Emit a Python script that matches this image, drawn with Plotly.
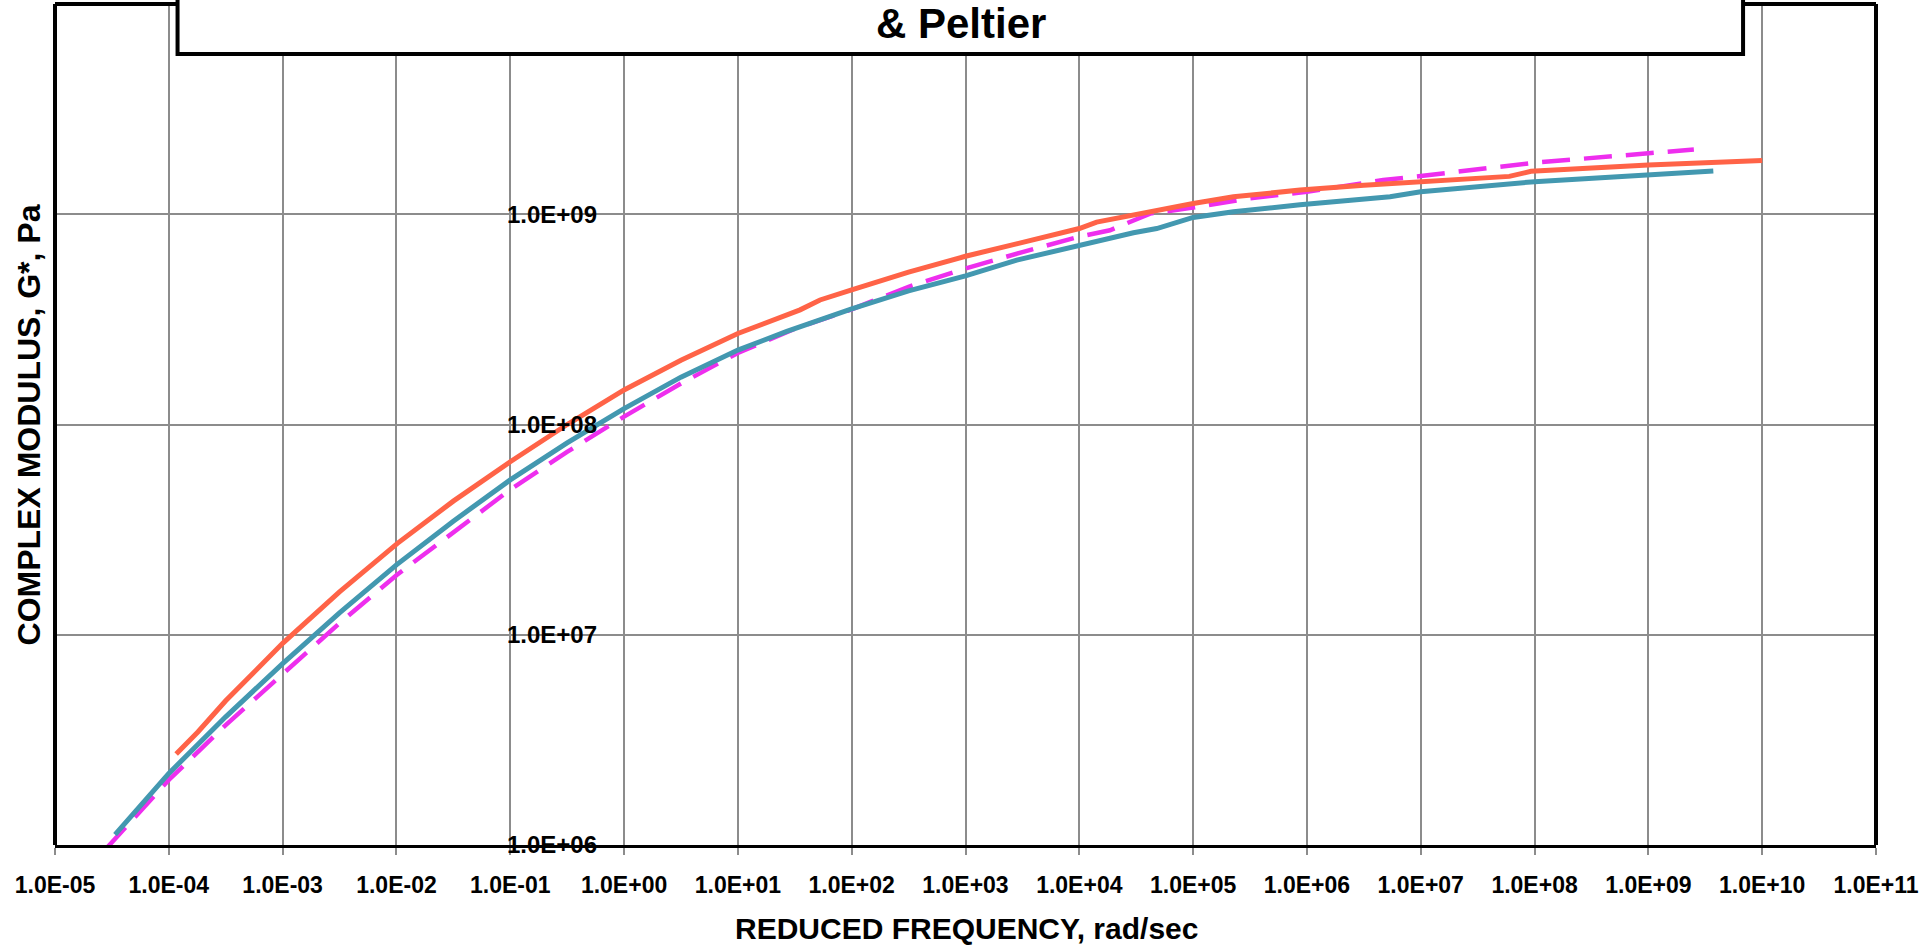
import plotly.graph_objects as go

# ---------------- data ----------------
x_tick_vals = [1e-5, 1e-4, 1e-3, 1e-2, 1e-1, 1e0, 1e1, 1e2, 1e3, 1e4, 1e5, 1e6, 1e7, 1e8, 1e9, 1e10, 1e11]
x_tick_text = ["1.0E-05", "1.0E-04", "1.0E-03", "1.0E-02", "1.0E-01", "1.0E+00", "1.0E+01", "1.0E+02",
               "1.0E+03", "1.0E+04", "1.0E+05", "1.0E+06", "1.0E+07", "1.0E+08", "1.0E+09", "1.0E+10", "1.0E+11"]
y_tick_vals = [1e6, 1e7, 1e8, 1e9]
y_tick_text = ["1.0E+06", "1.0E+07", "1.0E+08", "1.0E+09"]

# orange solid series
orange_freq = [1.16e-4, 1.8e-4, 3.16e-4, 5.6e-4, 1.0e-3, 3.16e-3, 1.02e-2, 3.16e-2, 0.1, 0.316, 1.0, 3.16, 10,
               35.2, 52.7, 100, 316, 1000, 3450, 5550, 1.0e4, 1.42e4, 3.42e4, 5.5e4, 1.0e5, 2.26e5, 8.7e5,
               3.16e6, 1.0e7, 6.0e7, 9.3e7, 1.0e9, 1.0e10]
orange_g = [2.71e6, 3.45e6, 4.85e6, 6.65e6, 9.10e6, 1.60e7, 2.72e7, 4.32e7, 6.65e7, 1.0e8, 1.46e8, 2.02e8, 2.71e8,
            3.51e8, 3.91e8, 4.37e8, 5.31e8, 6.31e8, 7.40e8, 7.93e8, 8.55e8, 9.18e8, 1.007e9, 1.064e9, 1.125e9,
            1.21e9, 1.303e9, 1.374e9, 1.429e9, 1.514e9, 1.60e9, 1.714e9, 1.80e9]

# teal solid series
teal_freq = [3.37e-5, 1.0e-4, 3.16e-4, 1.0e-3, 3.16e-3, 1.0e-2, 3.16e-2, 0.1, 0.316, 1.0, 3.16, 10, 26.9,
             100, 316, 1000, 2820, 1.0e4, 2.99e4, 4.79e4, 7.69e4, 1.0e5, 2.26e5, 8.7e5, 5.37e6, 1.0e7,
             1.0e8, 1.0e9, 3.72e9]
teal_g = [1.12e6, 2.19e6, 4.07e6, 7.29e6, 1.27e7, 2.15e7, 3.47e7, 5.45e7, 8.17e7, 1.19e8, 1.68e8, 2.26e8, 2.77e8,
          3.55e8, 4.32e8, 5.09e8, 6.05e8, 7.14e8, 8.17e8, 8.55e8, 9.33e8, 9.66e8, 1.028e9, 1.109e9, 1.21e9,
          1.279e9, 1.429e9, 1.538e9, 1.607e9]

# magenta dashed series
magenta_freq = [2.84e-5, 1.0e-4, 3.16e-4, 1.0e-3, 3.16e-3, 1.0e-2, 3.16e-2, 0.1, 0.316, 1.0, 3.16, 10, 31.6,
                100, 316, 1000, 3162, 1.0e4, 1.86e4, 4.19e4, 1.0e5, 3.16e5, 1.0e6, 4.68e6, 1.0e7, 1.0e8,
                1.0e9, 2.51e9]
magenta_g = [9.66e5, 2.04e6, 3.72e6, 6.55e6, 1.135e7, 1.92e7, 3.09e7, 4.9e7, 7.41e7, 1.09e8, 1.567e8, 2.19e8,
             2.85e8, 3.53e8, 4.52e8, 5.52e8, 6.61e8, 7.82e8, 8.39e8, 1.007e9, 1.076e9, 1.19e9, 1.279e9, 1.455e9,
             1.52e9, 1.758e9, 1.95e9, 2.03e9]

# ---------------- figure ----------------
FONT = "Liberation Sans, Arial, sans-serif"
GRID = "#8c8c8c"

fig = go.Figure()
fig.add_trace(go.Scatter(x=magenta_freq, y=magenta_g, mode="lines",
                         line=dict(color="#EE2EEE", width=4.5, dash="28px,14px"), showlegend=False))
fig.add_trace(go.Scatter(x=teal_freq, y=teal_g, mode="lines",
                         line=dict(color="#4398B0", width=5), showlegend=False))
fig.add_trace(go.Scatter(x=orange_freq, y=orange_g, mode="lines",
                         line=dict(color="#FF6347", width=5), showlegend=False))

fig.update_layout(
    width=1920, height=949,
    margin=dict(l=55, r=44, t=4, b=104, autoexpand=False),
    paper_bgcolor="white", plot_bgcolor="white",
    showlegend=False,
    xaxis=dict(type="log", range=[-5, 11], tickvals=x_tick_vals, ticktext=x_tick_text,
               showgrid=True, gridcolor=GRID, gridwidth=1.5,
               ticks="outside", ticklen=7, tickcolor=GRID, tickwidth=1.5,
               showline=True, linecolor="black", linewidth=2.5,
               tickfont=dict(family=FONT, size=23, color="black", weight="bold"),
               ticklabelstandoff=11, ticklabeloverflow="allow", automargin=False, zeroline=False),
    yaxis=dict(type="log", range=[6, 10], tickvals=y_tick_vals, ticktext=y_tick_text,
               anchor="free", position=5 / 16,
               showgrid=True, gridcolor=GRID, gridwidth=1.5,
               ticks="", showline=False, zeroline=False, automargin=False,
               tickfont=dict(family=FONT, size=24, color="black", weight="bold"),
               ticklabelstandoff=27),
)

# plot area border (left, top, right)
for (x0, y0, x1, y1) in [(0, 0, 0, 1), (0, 1, 1, 1), (1, 0, 1, 1)]:
    fig.add_shape(type="line", xref="paper", yref="paper", x0=x0, y0=y0, x1=x1, y1=y1,
                  line=dict(color="black", width=4), layer="above")

# title box (top part clipped by the figure edge)
fig.add_shape(type="rect", xref="paper", yref="paper", x0=0.0673, x1=0.927, y0=0.9405, y1=1.2,
              fillcolor="white", line=dict(color="black", width=4), layer="above")
fig.add_annotation(text="<b>& Peltier</b>", xref="paper", yref="paper", x=0.4975, y=0.977,
                   xanchor="center", yanchor="middle", showarrow=False,
                   font=dict(family=FONT, size=42, color="black"))

# axis titles
fig.add_annotation(text="<b>COMPLEX MODULUS, G*, Pa</b>", xref="paper", yref="paper",
                   x=-0.0143, y=0.5, textangle=-90, xanchor="center", yanchor="middle",
                   showarrow=False, font=dict(family=FONT, size=32, color="black"))
fig.add_annotation(text="<b>REDUCED FREQUENCY, rad/sec</b>", xref="paper", yref="paper",
                   x=0.5008, y=-0.0987, xanchor="center", yanchor="middle",
                   showarrow=False, font=dict(family=FONT, size=30, color="black"))

fig.write_html("out.html", config={"displayModeBar": False},
               post_script="document.body.style.margin='0';document.body.style.overflow='hidden';")
